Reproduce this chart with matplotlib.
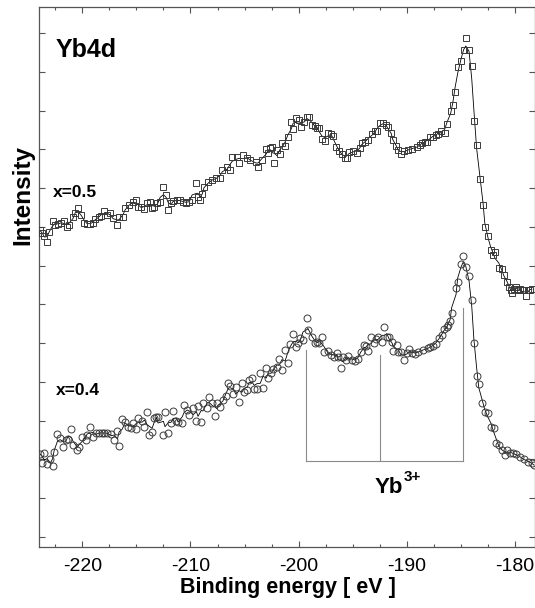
import numpy as np
import matplotlib.pyplot as plt

plt.rcParams['font.family'] = ['Liberation Sans', 'DejaVu Sans']
plt.rcParams['axes.unicode_minus'] = False

# x = 0.5 spectrum (squares), binding energy [eV] and intensity [arb. units]
e_05 = [-223.95, -223.70, -223.50, -223.25, -223.05, -222.75, -222.50, -222.20, -221.95, -221.65,
        -221.40, -221.20, -220.85, -220.65, -220.35, -220.10, -219.80, -219.55, -219.25, -219.00,
        -218.80, -218.50, -218.25, -217.95, -217.70, -217.40, -217.15, -216.75, -216.60, -216.20,
        -216.05, -215.65, -215.30, -215.00, -214.85, -214.55, -214.25, -214.00, -213.70, -213.55,
        -213.35, -213.05, -212.80, -212.50, -212.25, -212.05, -211.80, -211.60, -211.25, -210.95,
        -210.65, -210.40, -210.10, -209.85, -209.45, -209.30, -209.10, -208.90, -208.75, -208.35,
        -208.00, -207.65, -207.25, -207.05, -206.60, -206.35, -206.15, -205.70, -205.50, -205.15,
        -204.75, -204.50, -203.95, -203.75, -203.40, -203.00, -202.80, -202.65, -202.45, -202.25,
        -202.00, -201.70, -201.55, -201.25, -201.00, -200.70, -200.50, -200.25, -199.95, -199.80,
        -199.50, -199.20, -199.05, -198.75, -198.50, -198.30, -198.10, -197.85, -197.55, -197.30,
        -197.00, -196.80, -196.55, -196.25, -196.00, -195.70, -195.55, -195.35, -195.00, -194.60,
        -194.35, -194.15, -193.85, -193.60, -193.20, -192.95, -192.75, -192.50, -192.20, -191.95,
        -191.75, -191.45, -191.30, -191.00, -190.80, -190.55, -190.25, -189.90, -189.55, -189.05,
        -188.80, -188.60, -188.35, -188.15, -187.85, -187.60, -187.30, -187.15, -186.85, -186.50,
        -186.30, -185.95, -185.75, -185.55, -185.30, -185.00, -184.75, -184.55, -184.25, -184.00,
        -183.80, -183.55, -183.25, -182.95, -182.80, -182.50, -182.25, -182.05, -181.85, -181.50,
        -181.20, -181.05, -180.75, -180.55, -180.40, -180.30, -180.10, -179.90, -179.75, -179.55,
        -179.30, -179.00, -178.80, -178.65, -178.45]
i_05 = [317, 314, 311, 305, 315, 326, 322, 323, 324, 326,
        320, 322, 330, 334, 339, 332, 324, 323, 323, 324,
        328, 330, 331, 336, 332, 334, 329, 322, 330, 330,
        339, 342, 345, 347, 340, 340, 338, 344, 345, 339,
        340, 344, 345, 360, 352, 337, 344, 346, 347, 347,
        345, 344, 345, 347, 364, 350, 347, 353, 360, 365,
        367, 369, 369, 377, 380, 377, 390, 390, 384, 392,
        389, 387, 385, 380, 387, 398, 394, 399, 400, 384,
        397, 393, 404, 401, 410, 425, 418, 429, 427, 420,
        425, 430, 430, 422, 421, 419, 419, 408, 406, 414,
        413, 411, 400, 396, 393, 389, 389, 395, 396, 394,
        399, 404, 405, 407, 413, 416, 416, 424, 424, 422,
        420, 414, 407, 401, 397, 393, 396, 397, 398, 400,
        402, 404, 405, 405, 410, 410, 412, 413, 416, 414,
        423, 436, 442, 455, 480, 486, 497, 509, 497, 481,
        426, 402, 368, 342, 320, 311, 297, 292, 295, 279,
        278, 272, 265, 260, 257, 254, 258, 260, 257, 258,
        257, 251, 257, 257, 258]

# x = 0.4 spectrum (circles)
e_04 = [-223.90, -223.70, -223.50, -223.25, -222.95, -222.75, -222.60, -222.30, -222.05, -221.75,
        -221.55, -221.30, -221.00, -220.85, -220.45, -220.30, -220.00, -219.70, -219.55, -219.25,
        -219.00, -218.70, -218.45, -218.15, -217.95, -217.70, -217.30, -217.05, -216.75, -216.60,
        -216.30, -216.05, -215.75, -215.50, -215.30, -215.00, -214.85, -214.45, -214.25, -214.00,
        -213.80, -213.55, -213.35, -213.15, -213.00, -212.50, -212.35, -212.05, -211.80, -211.60,
        -211.30, -211.15, -210.75, -210.60, -210.30, -210.10, -209.75, -209.45, -209.30, -209.00,
        -208.85, -208.45, -208.25, -208.00, -207.70, -207.55, -207.25, -207.00, -206.70, -206.50,
        -206.35, -206.05, -205.80, -205.50, -205.25, -205.05, -204.75, -204.60, -204.30, -204.10,
        -203.85, -203.55, -203.30, -203.00, -202.80, -202.55, -202.35, -202.00, -201.80, -201.55,
        -201.25, -201.00, -200.80, -200.50, -200.25, -200.05, -199.85, -199.60, -199.20, -199.15,
        -198.75, -198.50, -198.30, -198.10, -197.85, -197.65, -197.30, -197.00, -196.75, -196.45,
        -196.35, -196.10, -195.90, -195.60, -195.45, -195.05, -194.80, -194.50, -194.25, -193.95,
        -193.80, -193.60, -193.30, -193.05, -192.85, -192.65, -192.30, -192.10, -191.85, -191.65,
        -191.35, -191.30, -190.90, -190.80, -190.55, -190.25, -190.00, -189.80, -189.55, -189.25,
        -188.95, -188.50, -188.05, -187.85, -187.60, -187.30, -187.05, -186.75, -186.55, -186.30,
        -186.20, -186.00, -185.85, -185.45, -185.30, -185.00, -184.80, -184.55, -184.25, -184.00,
        -183.80, -183.55, -183.35, -183.05, -182.80, -182.50, -182.25, -181.95, -181.75, -181.50,
        -181.20, -180.95, -180.75, -180.50, -180.20, -179.90, -179.55, -179.20, -178.80, -178.45,
        -178.25]
i_04 = [93, 84, 94, 83, 88, 81, 95, 113, 109, 100,
        107, 108, 118, 102, 97, 100, 110, 107, 112, 120,
        110, 114, 114, 114, 114, 114, 113, 107, 116, 101,
        128, 125, 120, 119, 124, 118, 129, 126, 120, 135,
        112, 115, 129, 130, 130, 112, 135, 114, 124, 136,
        126, 125, 124, 142, 137, 132, 139, 126, 141, 125,
        144, 139, 150, 144, 131, 144, 140, 147, 151, 164,
        161, 153, 160, 145, 164, 155, 157, 167, 169, 158,
        158, 174, 159, 179, 169, 174, 178, 180, 188, 177,
        197, 184, 203, 213, 200, 204, 209, 207, 229, 217,
        210, 204, 205, 204, 210, 195, 196, 192, 190, 194,
        190, 179, 190, 187, 191, 187, 186, 188, 195, 202,
        201, 196, 210, 204, 208, 210, 205, 220, 210, 210,
        205, 196, 202, 195, 195, 187, 194, 198, 194, 193,
        195, 197, 199, 200, 201, 203, 209, 212, 218, 220,
        222, 226, 234, 259, 265, 283, 291, 280, 271, 247,
        204, 171, 163, 144, 135, 134, 120, 119, 104, 102,
        97, 92, 97, 94, 94, 93, 90, 88, 85, 84,
        82]

# Yb3+ multiplet markers: energies, top of each bar, common base
yb3_e = [-199.3, -192.5, -184.8]
yb3_top = [197, 192, 239]
yb3_base = 86


def smooth(y):
    """3-point running mean, ends kept as measured"""
    y = np.asarray(y, dtype=float)
    s = np.convolve(y, np.ones(3) / 3, mode='same')
    s[0], s[-1] = y[0], y[-1]
    return s


fig = plt.figure(figsize=(5.35, 6.08), dpi=100)
ax = fig.add_axes([39 / 535, 61 / 608, 495.5 / 535, 540 / 608])

for e, i, mk in [(e_05, i_05, 's'), (e_04, i_04, 'o')]:
    ax.plot(e, smooth(i), color='black', lw=0.6, zorder=2)
    ax.plot(e, i, ls='none', marker=mk, ms=5, mfc='none', mec='#3a3a3a', mew=0.7, zorder=3)

# Yb3+ bracket
for e, top in zip(yb3_e, yb3_top):
    ax.plot([e, e], [yb3_base, top], color='#8a8a8a', lw=0.8)
ax.plot([yb3_e[0], yb3_e[-1]], [yb3_base, yb3_base], color='#8a8a8a', lw=0.8)
ax.text(-191.7, 54, 'Yb', fontsize=16, fontweight='bold', ha='center', va='baseline')
ax.text(-190.25, 66, '3+', fontsize=11, fontweight='bold', ha='left', va='baseline')

ax.text(-222.5, 490, 'Yb4d', fontsize=18, fontweight='bold', va='baseline')
ax.text(-222.7, 350, 'x=0.5', fontsize=12.5, fontweight='bold', va='baseline')
ax.text(-222.4, 152, 'x=0.4', fontsize=12.5, fontweight='bold', va='baseline')

ax.set_xlim(-224.0, -178.2)
ax.set_ylim(0, 540)
ax.set_xticks([-220, -210, -200, -190, -180])
ax.set_xticks(np.arange(-222.5, -178, 2.5), minor=True)
ax.set_yticks(10 + 38.77 * np.arange(14))
ax.set_yticklabels([])
ax.tick_params(axis='both', which='both', direction='in', top=True, right=True,
               color='#555555', width=0.8)
ax.tick_params(axis='both', which='major', length=4)
ax.tick_params(axis='both', which='minor', length=2.5)
ax.tick_params(axis='x', labelsize=14, pad=8)
for sp in ax.spines.values():
    sp.set_color('#555555')
    sp.set_linewidth(0.9)

fig.text(23 / 535, 1 - 195 / 608, 'Intensity', rotation=90, fontsize=17.5,
         fontweight='bold', ha='center', va='center')
fig.text(288 / 535, 1 - 587 / 608, 'Binding energy [ eV ]', fontsize=15.5,
         fontweight='bold', ha='center', va='center')

fig.savefig('out.png', dpi=100)
